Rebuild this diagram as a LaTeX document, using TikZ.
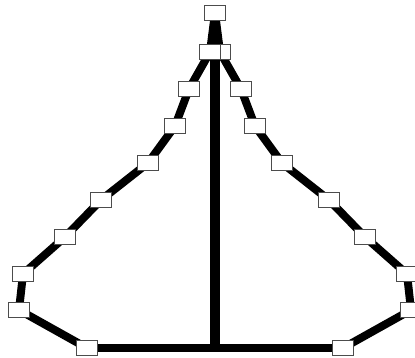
\documentclass[tikz,border=0pt]{standalone}
\usetikzlibrary{backgrounds}
\begin{document}
\begin{tikzpicture}[
        x=1pt, y=-1pt,
        knot/.style={
          draw=black!70,
          line width=0.8pt,
          fill=white,
          inner sep=0pt,
          minimum width=21pt,
          minimum height=15pt
        },
        bar/.style={line width=8pt},
        spine/.style={line width=10.5pt}
      ]
      \useasboundingbox (0,0) rectangle (415,358);

      \node[knot] (top) at (215,13) {};
      \node[knot] (hr) at (220,52) {};
      \node[knot] (hl) at (210,52) {};
      \node[knot] (l1) at (189,89) {};
      \node[knot] (l2) at (175,126) {};
      \node[knot] (l3) at (148,163) {};
      \node[knot] (l4) at (101,200) {};
      \node[knot] (l5) at (65,237) {};
      \node[knot] (l6) at (23,274) {};
      \node[knot] (l7) at (19,310) {};
      \node[knot] (l8) at (87,348) {};
      \node[knot] (r1) at (241,89) {};
      \node[knot] (r2) at (255,126) {};
      \node[knot] (r3) at (282,163) {};
      \node[knot] (r4) at (329,200) {};
      \node[knot] (r5) at (365,237) {};
      \node[knot] (r6) at (407,274) {};
      \node[knot] (r7) at (411,310) {};
      \node[knot] (r8) at (343,348) {};
      \coordinate (foot) at (215,348);

      \begin{scope}[on background layer]
        \draw[spine] (top.center) -- (foot);
        \draw[bar] (top.center) -- (hl.center);
        \draw[bar] (top.center) -- (hr.center);
        \draw[bar] (hl.center) -- (l1.center) -- (l2.center) -- (l3.center)
          -- (l4.center) -- (l5.center) -- (l6.center) -- (l7.center)
          -- (l8.center);
        \draw[bar] (hr.center) -- (r1.center) -- (r2.center) -- (r3.center)
          -- (r4.center) -- (r5.center) -- (r6.center) -- (r7.center)
          -- (r8.center);
        \draw[bar] (l8.center) -- (r8.center);
      \end{scope}
    \end{tikzpicture}
\end{document}
